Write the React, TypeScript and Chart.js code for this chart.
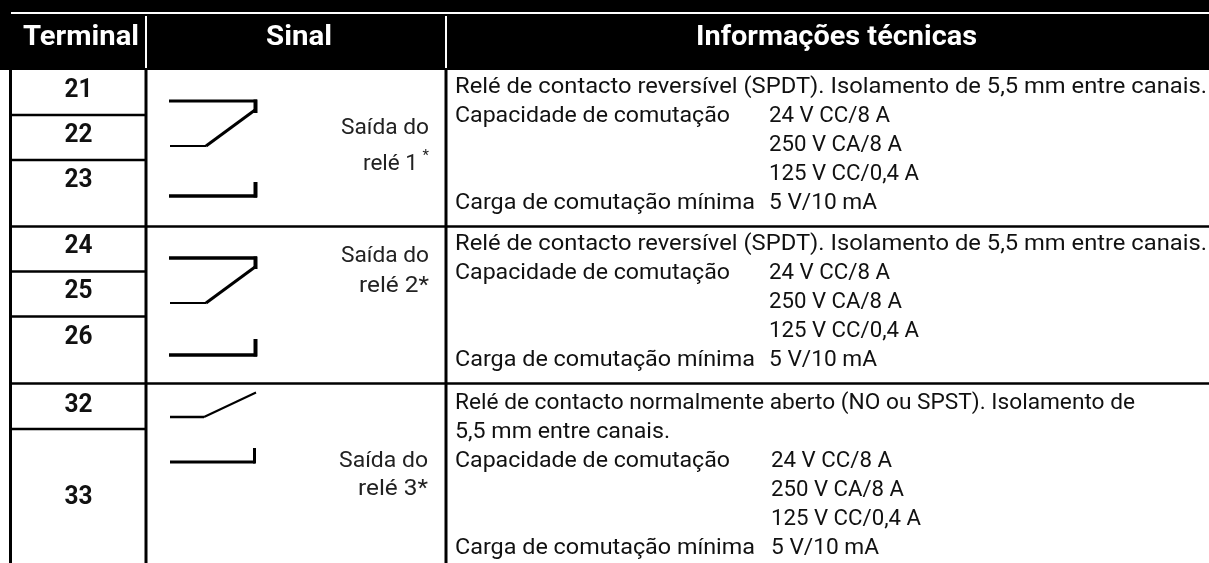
import React, { useEffect, useRef } from "react";
import { Chart, registerables } from "chart.js";

Chart.register(...registerables);

const FONT = "Roboto";
const headers = ["Terminal", "Sinal", "Informações técnicas"];
const terminals = ["21", "22", "23", "24", "25", "26", "32", "33"];
const signals = ["Saída do", "relé 1", "Saída do", "relé 2*", "Saída do", "relé 3*"];
const spdtLine = "Relé de contacto reversível (SPDT). Isolamento de 5,5 mm entre canais.";
const noLine1 = "Relé de contacto normalmente aberto (NO ou SPST). Isolamento de";
const noLine2 = "5,5 mm entre canais.";
const capLabel = "Capacidade de comutação";
const minLabel = "Carga de comutação mínima";
const capValues = ["24 V CC/8 A", "250 V CA/8 A", "125 V CC/0,4 A"];
const minValue = "5 V/10 mA";

type P = { x: number; y: number };
type Seg = { pts: number[][]; w: number };

const segments: Seg[] = [
  { pts: [[10.5, 70], [10.5, 563]], w: 3 },
  { pts: [[146, 70], [146, 563]], w: 3 },
  { pts: [[446, 70], [446, 563]], w: 3 },
  { pts: [[10, 115], [146, 115]], w: 2.5 },
  { pts: [[10, 160], [146, 160]], w: 2.5 },
  { pts: [[10, 226.5], [1209, 226.5]], w: 2.5 },
  { pts: [[10, 271.5], [146, 271.5]], w: 2.5 },
  { pts: [[10, 316.5], [146, 316.5]], w: 2.5 },
  { pts: [[10, 383.5], [1209, 383.5]], w: 2.5 },
  { pts: [[10, 429], [146, 429]], w: 2.5 },
  // relay 1
  { pts: [[169, 101], [257, 101]], w: 3 },
  { pts: [[255.5, 99.5], [255.5, 113]], w: 4 },
  { pts: [[255, 110], [206, 146]], w: 3 },
  { pts: [[170, 146], [206, 146]], w: 2 },
  { pts: [[169, 196], [257, 196]], w: 3.5 },
  { pts: [[255.5, 182], [255.5, 197.5]], w: 4 },
  // relay 2
  { pts: [[169, 258], [257, 258]], w: 3.5 },
  { pts: [[255.5, 256.5], [255.5, 269]], w: 4 },
  { pts: [[255, 267], [206, 303]], w: 3 },
  { pts: [[170, 303], [206, 303]], w: 2 },
  { pts: [[169, 355], [257, 355]], w: 3.5 },
  { pts: [[255.5, 339], [255.5, 356.5]], w: 4 },
  // relay 3
  { pts: [[256, 392.5], [204, 417]], w: 2 },
  { pts: [[170, 417], [204, 417]], w: 2.5 },
  { pts: [[170, 462], [255, 462]], w: 3 },
  { pts: [[254.5, 448], [254.5, 463.5]], w: 3 },
];

const whiteSegments: Seg[] = [
  { pts: [[11, 13], [1209, 13]], w: 2 },
  { pts: [[146, 16], [146, 68]], w: 2 },
  { pts: [[446, 16], [446, 68]], w: 2 },
];

const bandPlugin = {
  id: "headerBand",
  beforeDatasetsDraw(chart: any) {
    const { ctx, scales } = chart;
    ctx.save();
    ctx.fillStyle = "#000";
    ctx.fillRect(0, 0, scales.x.getPixelForValue(1209), scales.y.getPixelForValue(70));
    ctx.restore();
  },
};

const textPlugin = {
  id: "tableText",
  afterDatasetsDraw(chart: any) {
    const { ctx, scales } = chart;
    const X = (v: number) => scales.x.getPixelForValue(v);
    const Y = (v: number) => scales.y.getPixelForValue(v);
    const put = (s: string, x: number, y: number, size: number, color: string, bold: boolean, align: string, width?: number) => {
      ctx.save();
      ctx.font = `${bold ? "700" : "400"} ${size}px ${FONT}`;
      ctx.fillStyle = color;
      ctx.textBaseline = "alphabetic";
      ctx.textAlign = "left";
      const w = ctx.measureText(s).width;
      const target = width ?? w;
      const sx = target / w;
      const left = align === "left" ? x : align === "right" ? x - target : x - target / 2;
      ctx.translate(X(left), Y(y));
      ctx.scale(sx, 1);
      ctx.fillText(s, 0, 0);
      ctx.restore();
    };
    put(headers[0], 23, 45, 27, "#fff", true, "left", 116);
    put(headers[1], 266, 45, 27, "#fff", true, "left", 66);
    put(headers[2], 696, 45, 27, "#fff", true, "left", 281);
    const ty = [97, 142, 187, 253, 298, 344, 412, 504];
    terminals.forEach((t, i) => put(t, 78.5, ty[i], 26, "#111", true, "center", 28));
    const S = 22;
    put(signals[0], 429, 134, S, "#222", false, "right", 88);
    put(signals[1], 418, 170, S, "#222", false, "right", 55);
    put("*", 429, 160, 15, "#222", false, "right");
    put(signals[2], 429, 262, S, "#222", false, "right", 88);
    put(signals[3], 429, 292, S, "#222", false, "right", 70);
    put(signals[4], 428, 467, S, "#222", false, "right", 89);
    put(signals[5], 428, 495, S, "#222", false, "right", 70);
    const block = (top: number, vx: number) => {
      put(capLabel, 455, top, S, "#111", false, "left", 275);
      capValues.forEach((v, i) => put(v, vx, top + i * 29, S, "#111", false, "left", i === 0 ? 121 : i === 1 ? 133 : 150));
      put(minLabel, 455, top + 87, S, "#111", false, "left", 300);
      put(minValue, vx, top + 87, S, "#111", false, "left", 108);
    };
    put(spdtLine, 455, 93, S, "#111", false, "left", 752);
    block(122, 769);
    put(spdtLine, 455, 250, S, "#111", false, "left", 752);
    block(279, 769);
    put(noLine1, 455, 409, S, "#111", false, "left", 680);
    put(noLine2, 455, 438, S, "#111", false, "left", 215);
    block(467, 771);
  },
};

export default function App() {
  const ref = useRef<HTMLCanvasElement>(null);
  useEffect(() => {
    document.body.style.margin = "0";
    const toData = (s: Seg) => s.pts.map(([x, y]) => ({ x, y })) as P[];
    const ds = (s: Seg, color: string, order: number) => ({
      data: toData(s),
      showLine: true,
      borderColor: color,
      borderWidth: s.w,
      pointRadius: 0,
      fill: false,
      tension: 0,
      order,
    });
    const chart = new Chart(ref.current!, {
      type: "scatter",
      data: {
        datasets: [
          ...segments.map((s) => ds(s, "#000", 3)),
          ...whiteSegments.map((s) => ds(s, "#fff", 1)),
        ] as any,
      },
      options: {
        animation: false,
        responsive: false,
        layout: { padding: 0 },
        plugins: { legend: { display: false }, tooltip: { enabled: false } },
        scales: {
          x: { type: "linear", min: 0, max: 1209, display: false },
          y: { type: "linear", min: 0, max: 563, reverse: true, display: false },
        },
      },
      plugins: [bandPlugin, textPlugin],
    });
    return () => chart.destroy();
  }, []);
  return <canvas ref={ref} width={1209} height={563} style={{ display: "block", background: "#fff" }} />;
}
